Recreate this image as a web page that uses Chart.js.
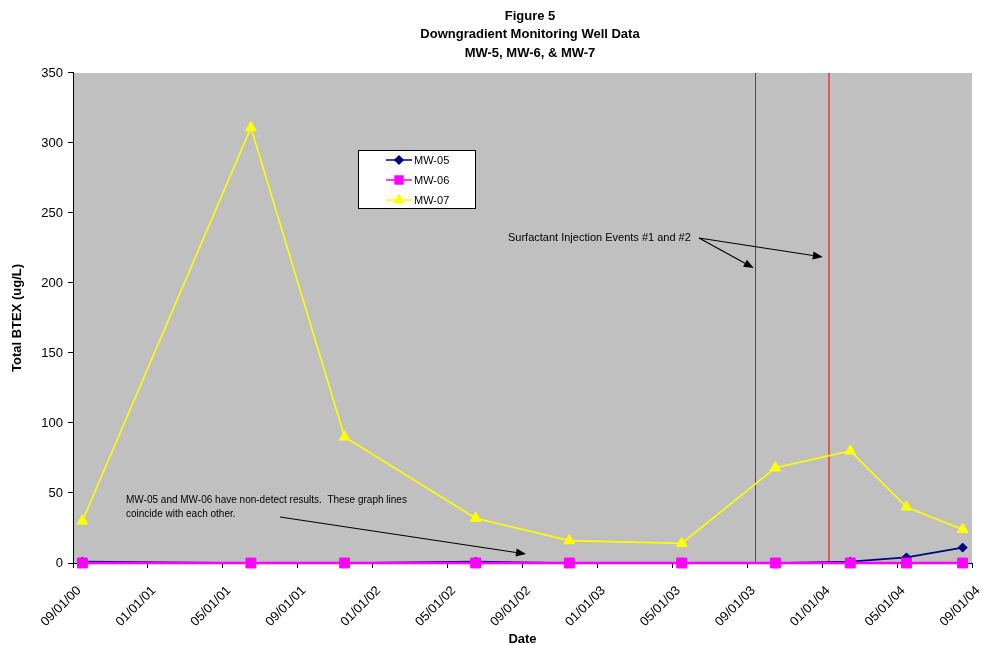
<!DOCTYPE html>
<html>
<head>
<meta charset="utf-8">
<script src="https://cdn.jsdelivr.net/npm/chart.js@4.4.1/dist/chart.umd.min.js"></script>
<style>
html,body{margin:0;padding:0;background:#fff;}
#wrap{width:982px;height:645px;}
</style>
</head>
<body>
<div id="wrap"><canvas id="c" width="982" height="645"></canvas></div>
<script>
// ---- data ----
const sampleMonths = ['2000-09','2001-06','2001-11','2002-06','2002-11','2003-05','2003-10','2004-02','2004-05','2004-08'];
const mw05 = [1, 0, 0, 1, 0, 0, 0, 1, 4, 11];
const mw06 = [0, 0, 0, 0, 0, 0, 0, 0, 0, 0];
const mw07 = [30, 311, 90, 32, 16, 14, 68, 80, 40, 24];
const seriesNames = ['MW-05', 'MW-06', 'MW-07'];
const eventDates = ['2003-09-13', '2004-01-12'];
const xTickMonths = ['2000-09','2001-01','2001-05','2001-09','2002-01','2002-05','2002-09','2003-01','2003-05','2003-09','2004-01','2004-05','2004-09'];
const yTickValues = [0, 50, 100, 150, 200, 250, 300, 350];
const titleLines = ['Figure 5', 'Downgradient Monitoring Well Data', 'MW-5, MW-6, & MW-7'];
const eventNote = 'Surfactant Injection Events #1 and #2';
const nonDetectNote = ['MW-05 and MW-06 have non-detect results.  These graph lines', 'coincide with each other.'];

// ---- helpers: months since Sep 2000 ----
const FONT = "'Liberation Sans', Arial, sans-serif";
function monthIndex(ym) {
  const [y, m] = ym.split('-').map(Number);
  return (y - 2000) * 12 + (m - 1) - 8;
}
function dateIndex(ymd) {
  const [y, m, d] = ymd.split('-').map(Number);
  const dim = new Date(y, m, 0).getDate();
  return monthIndex(y + '-' + m) + (d - 1) / dim;
}
function labelFor(idx) {
  const t = 8 + idx;
  const y = 2000 + Math.floor(t / 12);
  const m = (t % 12) + 1;
  return String(m).padStart(2, '0') + '/01/' + String(y % 100).padStart(2, '0');
}
const xs = sampleMonths.map(s => monthIndex(s) + 0.5);
const toPts = arr => arr.map((v, i) => ({x: xs[i], y: v}));
const xTickVals = xTickMonths.map(monthIndex);

const styles = [
  {color: '#000080', point: 'rectRot', r: 4.5},
  {color: '#FF00FF', point: 'rect', r: 7},
  {color: '#FFFF00', point: 'triangle', r: 6.2}
];
const seriesData = [mw05, mw06, mw07];

const datasets = seriesData.map((arr, i) => ({
  label: seriesNames[i],
  data: toPts(arr),
  borderColor: styles[i].color,
  backgroundColor: styles[i].color,
  borderWidth: i === 1 ? 2.5 : 1.6,
  pointStyle: styles[i].point,
  pointRadius: styles[i].r,
  pointBorderWidth: 1,
  pointBorderColor: styles[i].color,
  pointBackgroundColor: styles[i].color,
  tension: 0,
  clip: false,
  order: 3 - i
}));

function arrow(ctx, x1, y1, x2, y2) {
  const a = Math.atan2(y2 - y1, x2 - x1);
  const L = 10, W = 4;
  ctx.beginPath();
  ctx.moveTo(x1, y1);
  ctx.lineTo(x2 - L * Math.cos(a), y2 - L * Math.sin(a));
  ctx.stroke();
  ctx.beginPath();
  ctx.moveTo(x2, y2);
  ctx.lineTo(x2 - L * Math.cos(a) + W * Math.sin(a), y2 - L * Math.sin(a) - W * Math.cos(a));
  ctx.lineTo(x2 - L * Math.cos(a) - W * Math.sin(a), y2 - L * Math.sin(a) + W * Math.cos(a));
  ctx.closePath();
  ctx.fill();
}

const decor = {
  id: 'decor',
  afterLayout(chart) {
    if (chart.titleBlock) { chart.titleBlock.left = 78; chart.titleBlock.right = 982; }
  },
  beforeDraw(chart) {
    const {ctx, chartArea: a} = chart;
    ctx.save();
    ctx.fillStyle = '#FFFFFF';
    ctx.fillRect(0, 0, chart.width, chart.height);
    ctx.fillStyle = '#C0C0C0';
    ctx.fillRect(a.left, a.top, a.right - a.left, a.bottom - a.top);
    ctx.restore();
  },
  beforeDatasetsDraw(chart) {
    const {ctx, chartArea: a, scales} = chart;
    ctx.save();
    const ev = eventDates.map(dateIndex);
    const cols = ['#FF0000', '#E05A5A'];
    const wid = [1, 2];
    ev.forEach((v, i) => {
      const px = Math.round(scales.x.getPixelForValue(v)) + (wid[i] === 1 ? 0.5 : 0);
      ctx.strokeStyle = cols[i];
      ctx.lineWidth = wid[i];
      ctx.beginPath();
      ctx.moveTo(px, a.top);
      ctx.lineTo(px, a.bottom);
      ctx.stroke();
    });
    ctx.restore();
  },
  afterDatasetsDraw(chart) {
    const {ctx, scales} = chart;
    const X = v => scales.x.getPixelForValue(v);
    ctx.save();
    // event annotation
    ctx.fillStyle = '#000';
    ctx.strokeStyle = '#000';
    ctx.lineWidth = 1.2;
    ctx.font = '11px ' + FONT;
    ctx.textBaseline = 'middle';
    ctx.textAlign = 'left';
    ctx.fillText(eventNote, 508, 238);
    const ev = eventDates.map(dateIndex);
    arrow(ctx, 699, 238, X(ev[0]) - 1, 268);
    arrow(ctx, 699, 238, X(ev[1]) - 6, 257);
    // non-detect annotation
    ctx.font = '10px ' + FONT;
    ctx.fillText(nonDetectNote[0], 126, 500);
    ctx.fillText(nonDetectNote[1], 126, 514);
    arrow(ctx, 280, 517, 526, 554);

    // legend
    const lx = 358.5, ly = 150.5, lw = 117, lh = 58;
    ctx.fillStyle = '#FFFFFF';
    ctx.fillRect(lx, ly, lw, lh);
    ctx.strokeStyle = '#000';
    ctx.lineWidth = 1;
    ctx.strokeRect(lx, ly, lw, lh);
    chart.data.datasets.forEach((ds, i) => {
      const cy = 160 + i * 20;
      ctx.strokeStyle = ds.borderColor;
      ctx.lineWidth = 1.5;
      ctx.beginPath();
      ctx.moveTo(386, cy);
      ctx.lineTo(412, cy);
      ctx.stroke();
      Chart.helpers.drawPoint(ctx, {
        pointStyle: ds.pointStyle,
        radius: ds.pointStyle === 'rect' ? 5.5 : (ds.pointStyle === 'triangle' ? 5.2 : 4),
        borderWidth: 1,
        rotation: 0
      }, 399, cy);
      ctx.fillStyle = ds.backgroundColor;
      ctx.fill();
      ctx.fillStyle = '#000';
      ctx.font = '11px ' + FONT;
      ctx.textBaseline = 'middle';
      ctx.fillText(ds.label, 414, cy + 0.5);
    });
    ctx.restore();
  }
};

new Chart(document.getElementById('c'), {
  type: 'line',
  data: {datasets},
  options: {
    responsive: false,
    animation: false,
    devicePixelRatio: 1,
    layout: {padding: {left: 0, right: 10, top: 0, bottom: 0}},
    plugins: {
      legend: {display: false},
      tooltip: {enabled: false},
      title: {
        display: true,
        text: titleLines,
        color: '#000',
        font: {family: FONT, size: 13, weight: 'bold', lineHeight: 1.42},
        padding: {top: 7, bottom: 10.6}
      }
    },
    scales: {
      x: {
        type: 'linear',
        min: 0,
        max: 48,
        afterBuildTicks: s => { s.ticks = xTickVals.map(v => ({value: v})); },
        afterFit: s => { s.height = 82; s.paddingRight = 0; s.paddingLeft = 0; },
        ticks: {
          autoSkip: false,
          maxRotation: 45,
          minRotation: 45,
          color: '#000',
          font: {family: FONT, size: 13},
          padding: 15,
          labelOffset: 6,
          callback: v => labelFor(v)
        },
        grid: {drawOnChartArea: false, drawTicks: true, tickLength: 5, color: '#000'},
        border: {display: true, color: '#000', width: 1},
        title: {display: true, text: 'Date', color: '#000', font: {family: FONT, size: 13, weight: 'bold'}, padding: {top: 0, bottom: -2}}
      },
      y: {
        min: 0,
        max: 350,
        afterBuildTicks: s => { s.ticks = yTickValues.map(v => ({value: v})); },
        afterFit: s => { s.width = 73; },
        ticks: {color: '#000', font: {family: FONT, size: 13}, padding: 5},
        grid: {drawOnChartArea: false, drawTicks: true, tickLength: 5, color: '#000'},
        border: {display: true, color: '#000', width: 1},
        title: {display: true, text: 'Total BTEX (ug/L)', color: '#000', font: {family: FONT, size: 13, weight: 'bold'}, padding: {top: 10, bottom: 0}}
      }
    }
  },
  plugins: [decor]
});
</script>
</body>
</html>
